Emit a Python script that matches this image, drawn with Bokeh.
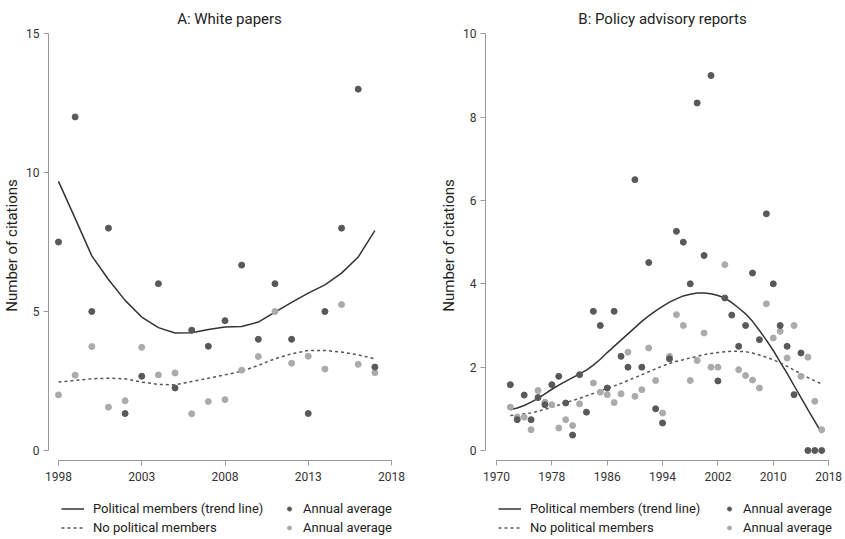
from bokeh.plotting import figure
from bokeh.models import Legend, LegendItem, FixedTicker, Range1d
from bokeh.layouts import row, column
from bokeh.embed import file_html
from bokeh.resources import INLINE

FONT = "Roboto"
NAN = float("nan")

# ---------------- Panel A: White papers ----------------
years_a = list(range(1998, 2018))
pol_avg_a = [7.5, 12.0, 5.0, 8.0, 1.33, 2.67, 6.0, 2.25, 4.33, 3.75,
             4.67, 6.67, 4.0, 6.0, 4.0, 1.33, 5.0, 8.0, 13.0, 3.0]
nopol_avg_a = [2.0, 2.71, 3.74, 1.56, 1.79, 3.71, 2.72, 2.79, 1.32, 1.76,
               1.83, 2.89, 3.38, 5.0, 3.14, 3.39, 2.93, 5.25, 3.1, 2.8]
pol_trend_a = [9.68, 8.35, 7.0, 6.15, 5.4, 4.8, 4.42, 4.23, 4.24, 4.35,
               4.44, 4.46, 4.62, 4.98, 5.33, 5.66, 5.96, 6.38, 6.96, 7.91]
nopol_trend_a = [2.46, 2.52, 2.58, 2.6, 2.58, 2.46, 2.38, 2.36, 2.48, 2.6,
                 2.72, 2.85, 3.06, 3.3, 3.48, 3.6, 3.6, 3.54, 3.44, 3.3]
xticks_a = [1998, 2003, 2008, 2013, 2018]
yticks_a = [0, 5, 10, 15]

# ---------------- Panel B: Policy advisory reports ----------------
years_b = list(range(1972, 2018))
pol_avg_b = [1.58, 0.74, 1.33, 0.74, 1.27, 1.1, 1.58, 1.78, 1.14, 0.37,
             1.82, 0.92, 3.34, 3.0, 1.5, 3.34, 2.26, 2.0, 6.5, 2.0,
             4.51, 1.0, 0.66, 2.2, 5.26, 5.0, 4.0, 8.34, 4.68, 9.0,
             1.67, 3.66, 3.25, 2.5, 3.0, 4.26, 2.66, 5.68, 4.0, 3.0,
             2.5, 1.34, 2.34, 0.0, 0.0, 0.0]
nopol_avg_b = [1.04, 0.8, 0.8, 0.5, 1.44, 1.16, 1.1, 0.54, 0.74, 0.6,
               1.12, NAN, 1.62, 1.4, 1.34, 1.15, 1.36, 2.36, 1.3, 1.46,
               2.46, 1.68, 0.9, 2.26, 3.26, 3.0, 1.68, 2.16, 2.82, 2.0,
               2.0, 4.46, NAN, 1.94, 1.8, 1.69, 1.5, 3.52, 2.7, 2.86,
               2.22, 3.0, 1.78, 2.24, 1.18, 0.5]
pol_trend_b = [0.98, 1.02, 1.08, 1.16, 1.25, 1.36, 1.47, 1.57, 1.66, 1.75,
               1.84, 1.93, 2.05, 2.19, 2.35, 2.5, 2.65, 2.8, 2.95, 3.1,
               3.23, 3.35, 3.46, 3.56, 3.64, 3.71, 3.75, 3.78, 3.78, 3.76,
               3.72, 3.66, 3.55, 3.42, 3.28, 3.1, 2.88, 2.65, 2.4, 2.12,
               1.85, 1.56, 1.27, 0.98, 0.7, 0.42]
nopol_trend_b = [0.84, 0.86, 0.88, 0.9, 0.94, 0.99, 1.04, 1.09, 1.15, 1.2,
                 1.25, 1.31, 1.37, 1.43, 1.49, 1.55, 1.61, 1.68, 1.75, 1.82,
                 1.89, 1.96, 2.03, 2.09, 2.14, 2.18, 2.22, 2.26, 2.3, 2.33,
                 2.35, 2.37, 2.38, 2.38, 2.37, 2.34, 2.29, 2.24, 2.18, 2.1,
                 2.02, 1.93, 1.84, 1.75, 1.67, 1.6]
xticks_b = [1970, 1978, 1986, 1994, 2002, 2010, 2018]
yticks_b = [0, 2, 4, 6, 8, 10]

line_labels = ["Political members (trend line)", "No political members"]
dot_labels = ["Annual average", "Annual average"]

DARK = "#595959"
LIGHT = "#ababab"
SOLID = dict(line_color="#333333", line_width=1.5)
DASHED = dict(line_color="#555555", line_width=1.5, line_dash="3 3")

PLOT_H = 494
LEG_H = 45


def make_panel(width, min_left, min_right, title, xr, yr, xticks, yticks,
               years, pol_avg, nopol_avg, pol_trend, nopol_trend):
    p = figure(width=width, height=PLOT_H, x_range=Range1d(*xr), y_range=Range1d(*yr),
               output_backend="svg", toolbar_location=None,
               min_border_left=min_left, min_border_right=min_right,
               min_border_top=30, min_border_bottom=34)
    p.title.text = title
    p.title.align = "center"
    p.title.text_font = FONT
    p.title.text_font_size = "15px"
    p.title.text_font_style = "normal"
    p.title.text_color = "#222222"
    p.title.standoff = 6
    p.grid.visible = False
    p.outline_line_color = None
    p.background_fill_color = "white"

    p.xaxis.ticker = FixedTicker(ticks=xticks)
    p.yaxis.ticker = FixedTicker(ticks=yticks)
    p.xaxis.bounds = (xticks[0], xticks[-1])
    p.yaxis.bounds = (yticks[0], yticks[-1])
    p.yaxis.axis_label = "Number of citations"
    for ax in (p.xaxis, p.yaxis):
        ax.axis_line_color = "#999999"
        ax.axis_line_width = 1
        ax.major_tick_line_color = "#999999"
        ax.major_tick_out = 5
        ax.major_tick_in = 0
        ax.minor_tick_line_color = None
        ax.major_label_text_font = FONT
        ax.major_label_text_font_size = "12px"
        ax.major_label_text_color = "#333333"
        ax.major_label_standoff = 4
        ax.axis_label_text_font = FONT
        ax.axis_label_text_font_size = "15px"
        ax.axis_label_text_font_style = "normal"
        ax.axis_label_text_color = "#222222"
        ax.axis_label_standoff = 2
    p.xaxis.major_label_standoff = 6

    p.line(years, pol_trend, **SOLID)
    p.line(years, nopol_trend, **DASHED)
    p.scatter(years, nopol_avg, size=6, fill_color=LIGHT, line_color=LIGHT)
    p.scatter(years, pol_avg, size=6, fill_color=DARK, line_color=DARK)
    return p


def make_legend(width, x_lines, x_dots):
    lf = figure(width=width, height=LEG_H, x_range=Range1d(0, 1), y_range=Range1d(0, 1),
                output_backend="svg", toolbar_location=None,
                x_axis_type=None, y_axis_type=None,
                min_border_left=0, min_border_right=0, min_border_top=0, min_border_bottom=0)
    lf.grid.visible = False
    lf.outline_line_color = None
    # legend-only renderers, placed outside the visible range: they only supply glyph styles
    off = [5, 6]
    r1 = lf.line(off, off, **SOLID)
    r2 = lf.line(off, off, **DASHED)
    r3 = lf.scatter(off, off, size=5, fill_color=DARK, line_color=DARK)
    r4 = lf.scatter(off, off, size=5, fill_color=LIGHT, line_color=LIGHT)
    common = dict(border_line_color=None, background_fill_alpha=0, padding=0, margin=0,
                  spacing=0, label_height=19, glyph_height=19, label_standoff=9,
                  label_text_font=FONT, label_text_font_size="13px",
                  label_text_color="#222222")
    leg1 = Legend(items=[LegendItem(label=line_labels[0], renderers=[r1]),
                         LegendItem(label=line_labels[1], renderers=[r2])],
                  location=(x_lines, 2), glyph_width=23, **common)
    leg2 = Legend(items=[LegendItem(label=dot_labels[0], renderers=[r3]),
                         LegendItem(label=dot_labels[1], renderers=[r4])],
                  location=(x_dots, 2), glyph_width=10, **common)
    lf.add_layout(leg1, "center")
    lf.add_layout(leg2, "center")
    return lf


pa = make_panel(420, 48, 10, "A: White papers", (1997.4, 2019.14), (-0.36, 15.11),
                xticks_a, yticks_a, years_a, pol_avg_a, nopol_avg_a,
                pol_trend_a, nopol_trend_a)
pb = make_panel(425, 65, 6, "B: Policy advisory reports", (1968.41, 2019.57), (-0.24, 10.08),
                xticks_b, yticks_b, years_b, pol_avg_b, nopol_avg_b,
                pol_trend_b, nopol_trend_b)
la = make_legend(420, 13, 236)
lb = make_legend(425, 13, 239)

layout = row(column(pa, la), column(pb, lb))
open("out.html", "w").write(file_html(layout, INLINE))
